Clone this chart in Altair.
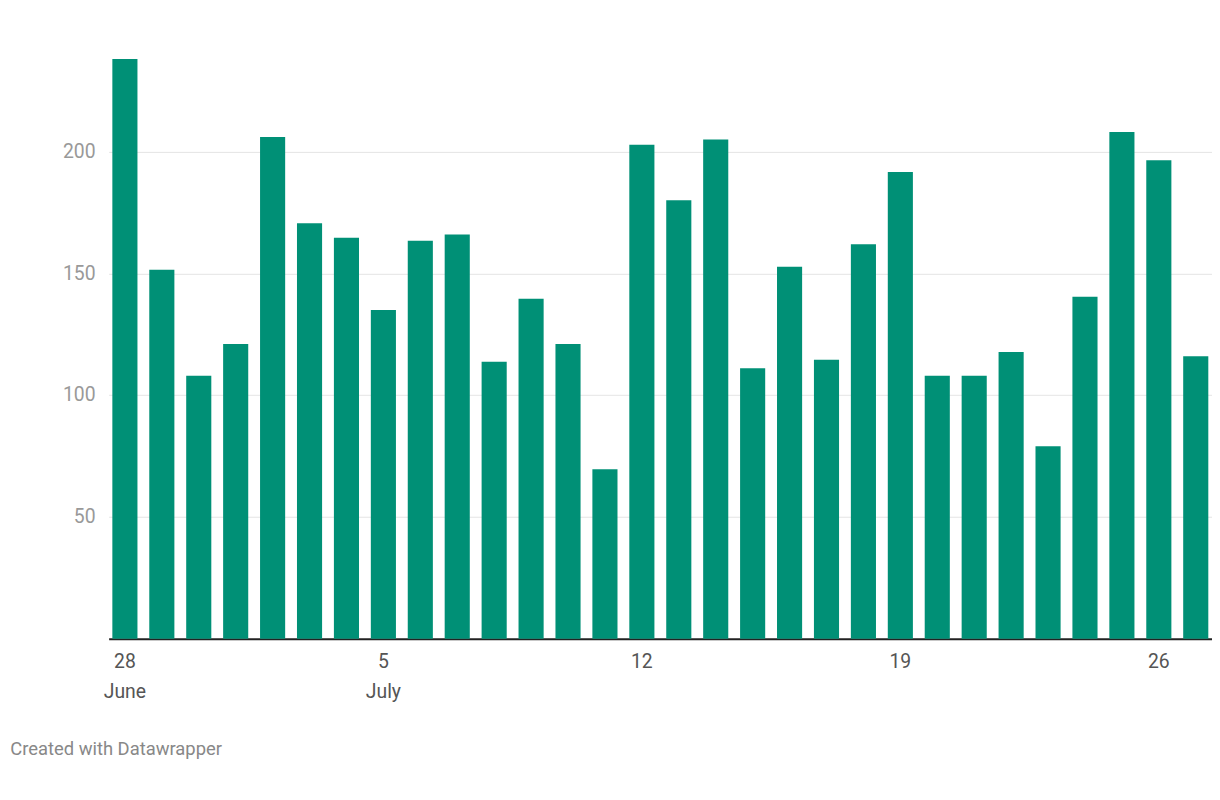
import altair as alt
import pandas as pd

days = ["06-28", "06-29", "06-30", "07-01", "07-02", "07-03", "07-04", "07-05",
        "07-06", "07-07", "07-08", "07-09", "07-10", "07-11", "07-12", "07-13",
        "07-14", "07-15", "07-16", "07-17", "07-18", "07-19", "07-20", "07-21",
        "07-22", "07-23", "07-24", "07-25", "07-26", "07-27"]
values = [238, 151.5, 108, 121, 206, 170.6, 164.6, 135, 163.4, 166, 113.7, 139.6,
          121, 69.6, 202.8, 180, 205, 111, 152.7, 114.5, 162, 191.6, 108, 108,
          117.7, 79, 140.4, 208, 196.4, 116]

df = pd.DataFrame({"day": days, "value": values})

label_expr = (
    "datum.value == '06-28' ? ['28', 'June'] : "
    "datum.value == '07-05' ? ['5', 'July'] : "
    "datum.value == '07-12' ? '12' : "
    "datum.value == '07-19' ? '19' : "
    "datum.value == '07-26' ? '26' : ''"
)

chart = (
    alt.Chart(df)
    .mark_bar(color="#009076")
    .encode(
        x=alt.X("day:N", sort=days, title=None,
                scale=alt.Scale(paddingInner=0.32, paddingOuter=0.1),
                axis=alt.Axis(labelExpr=label_expr, labelAngle=0, ticks=False,
                              domainColor="#222", domainWidth=2, labelColor="#555",
                              labelFontSize=20, labelPadding=14, labelLineHeight=31,
                              labelBaseline="top")),
        y=alt.Y("value:Q", title=None, scale=alt.Scale(domain=[0, 240], nice=False),
                axis=alt.Axis(values=[50, 100, 150, 200], domain=False, ticks=False,
                              gridColor="#e3e3e3", labelColor="#999",
                              labelFontSize=20, labelPadding=14)),
    )
    .properties(
        width=1140, height=604,
        padding={"left": 2, "top": 35, "right": 0, "bottom": 0},
        title=alt.TitleParams("Created with Datawrapper", orient="bottom",
                              anchor="start", fontSize=19, fontWeight="normal",
                              color="#888", offset=40, dx=-54),
    )
    .configure(font="Roboto")
    .configure_view(stroke=None)
)

chart.save("out.html", embed_options={"renderer": "svg", "actions": False})
